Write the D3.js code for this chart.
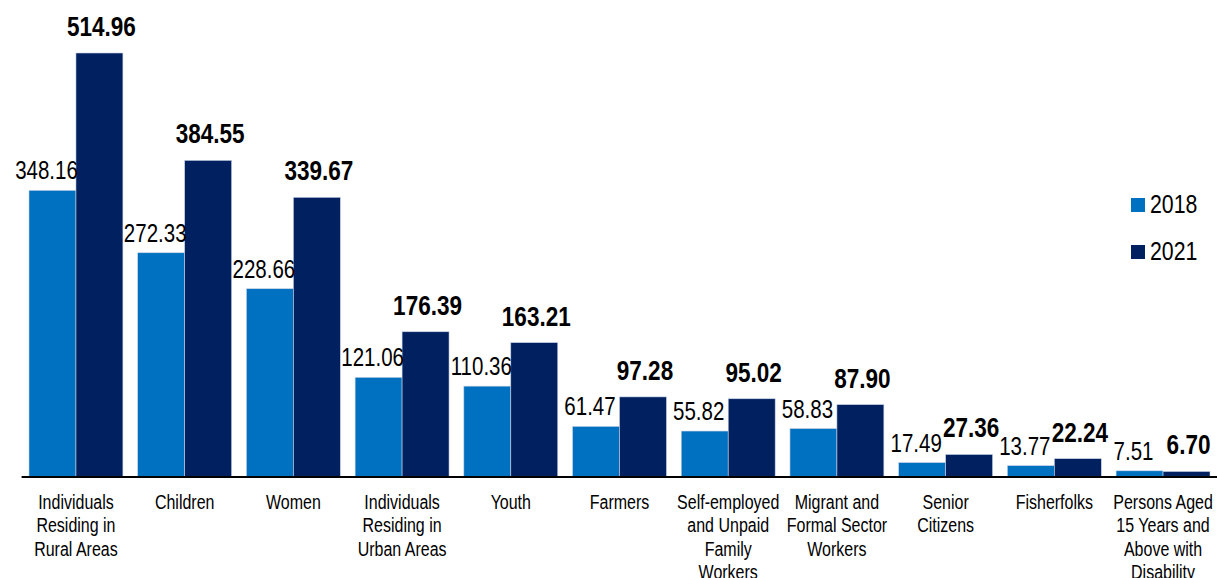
<!DOCTYPE html>
<html>
<head>
<meta charset="utf-8">
<script src="https://cdn.jsdelivr.net/npm/d3@7"></script>
<style>
  html, body { margin: 0; padding: 0; background: #fff; }
  svg { display: block; font-family: "Liberation Sans", Arial, sans-serif; }
</style>
</head>
<body>
<svg id="chart" width="1217" height="578"></svg>
<script>
// Poverty incidence by basic sector, 2018 vs 2021
const categories = [
  "Individuals\nResiding in\nRural Areas",
  "Children",
  "Women",
  "Individuals\nResiding in\nUrban Areas",
  "Youth",
  "Farmers",
  "Self-employed\nand Unpaid\nFamily\nWorkers",
  "Migrant and\nFormal Sector\nWorkers",
  "Senior\nCitizens",
  "Fisherfolks",
  "Persons Aged\n15 Years and\nAbove with\nDisability"
];
const values2018 = [348.16, 272.33, 228.66, 121.06, 110.36, 61.47, 55.82, 58.83, 17.49, 13.77, 7.51];
const values2021 = [514.96, 384.55, 339.67, 176.39, 163.21, 97.28, 95.02, 87.90, 27.36, 22.24, 6.70];
const seriesNames = ["2018", "2021"];
const seriesColors = ["#0070C0", "#002060"];

// narrow face: regular sans squeezed horizontally
const NARROW = 0.82;

const svg = d3.select("#chart");
const baseY = 477;

const x = d3.scaleBand()
  .domain(categories)
  .range([21.6, 1217.4])
  .paddingInner(0.136)
  .paddingOuter(0.068);

const xs = d3.scaleBand()
  .domain(seriesNames)
  .range([0, x.bandwidth()])
  .padding(0);

const y = d3.scaleLinear()
  .domain([0, 514.96])
  .range([baseY, 53]);

const rows = categories.map((c, i) => ({
  cat: c,
  vals: [
    { s: seriesNames[0], v: values2018[i] },
    { s: seriesNames[1], v: values2021[i] }
  ]
}));

const groups = svg.append("g").selectAll("g")
  .data(rows)
  .join("g")
  .attr("transform", d => `translate(${x(d.cat)},0)`);

// bars
groups.selectAll("rect")
  .data(d => d.vals)
  .join("rect")
  .attr("x", d => xs(d.s))
  .attr("y", d => y(d.v))
  .attr("width", xs.bandwidth())
  .attr("height", d => baseY - y(d.v))
  .attr("fill", (d, i) => seriesColors[i])
  .attr("stroke", "#c9d3e6")
  .attr("stroke-width", 0.6);

// value labels
groups.selectAll("text.val")
  .data(d => d.vals)
  .join("text")
  .attr("class", "val")
  .attr("transform", (d, i) => {
    const cx = xs(d.s) + xs.bandwidth() / 2 + (i === 0 ? -6 : 2);
    const cy = y(d.v) - (i === 0 ? 11 : 17);
    return `translate(${cx},${cy}) scale(${NARROW},1)`;
  })
  .attr("text-anchor", "middle")
  .attr("font-size", (d, i) => i === 0 ? 25 : 27.5)
  .attr("font-weight", (d, i) => i === 0 ? "normal" : "bold")
  .attr("fill", "#000")
  .text(d => d.v.toFixed(2));

// baseline axis
const xAxis = d3.axisBottom(x).tickSize(0).tickFormat("");
const axisG = svg.append("g")
  .attr("transform", `translate(0,${baseY})`)
  .call(xAxis);
axisG.select(".domain")
  .attr("d", "M21.6,0H1217")
  .attr("stroke", "#000")
  .attr("stroke-width", 2);

// category labels, one tspan per line
const catLabels = svg.append("g").selectAll("text")
  .data(categories)
  .join("text")
  .attr("transform", d => `translate(${x(d) + x.bandwidth() / 2},509) scale(${NARROW},1)`)
  .attr("text-anchor", "middle")
  .attr("font-size", 19.5)
  .attr("fill", "#000");
catLabels.selectAll("tspan")
  .data(d => d.split("\n"))
  .join("tspan")
  .attr("x", 0)
  .attr("dy", (d, i) => i === 0 ? 0 : 23.5)
  .text(d => d);

// legend
const legend = svg.append("g").attr("transform", "translate(1131,198)");
const li = legend.selectAll("g")
  .data(seriesNames)
  .join("g")
  .attr("transform", (d, i) => `translate(0,${i * 47})`);
li.append("rect")
  .attr("width", 14)
  .attr("height", 14)
  .attr("fill", (d, i) => seriesColors[i]);
li.append("text")
  .attr("transform", `translate(19,15) scale(${NARROW},1)`)
  .attr("font-size", 26)
  .attr("fill", "#000")
  .text(d => d);
</script>
</body>
</html>
